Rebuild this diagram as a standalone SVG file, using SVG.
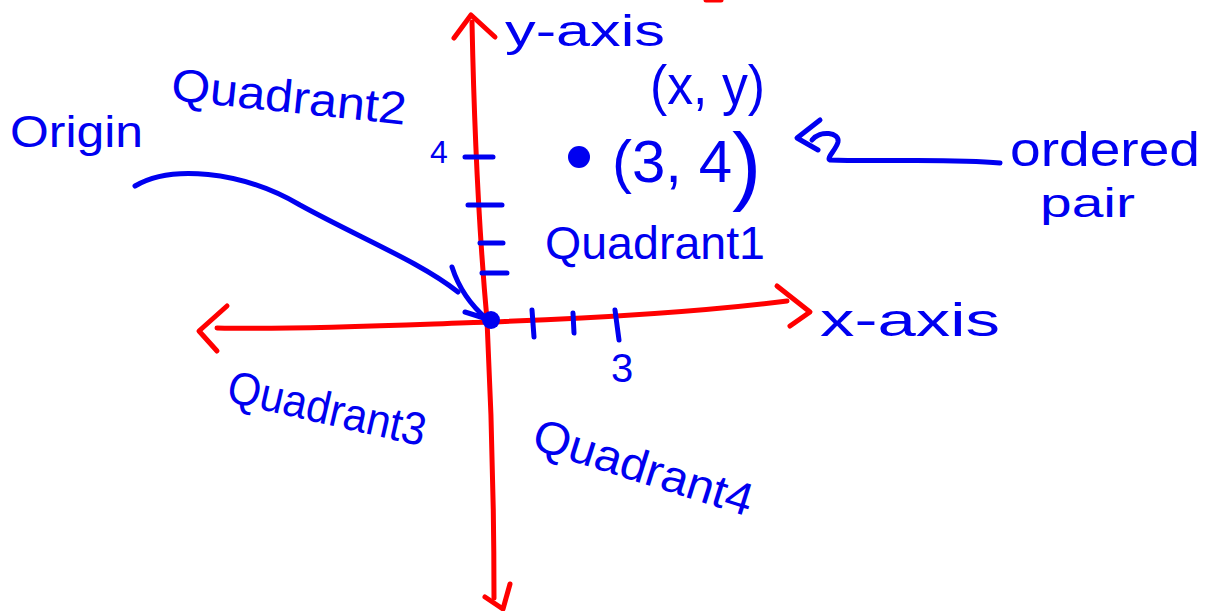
<svg xmlns="http://www.w3.org/2000/svg" width="1213" height="611" viewBox="0 0 1213 611">
<style>
.red{fill:none;stroke:#ff0000;stroke-width:5;stroke-linecap:round;stroke-linejoin:round}
.blue{fill:none;stroke:#0000f0;stroke-width:5;stroke-linecap:round;stroke-linejoin:round}
.lbl{fill:#0000f0;font-family:"Liberation Sans",Arial,sans-serif;}
</style>
<rect width="1213" height="611" fill="#ffffff"/>
<g id="axes">
  <path class="red" d="M472,22 C474,120 478,220 487,320 C492,420 494,500 494,598"/>
  <path class="red" d="M454,38 L471,15 L495,37"/>
  <path class="red" d="M485,597 L503,609 L510,584"/>
  <path class="red" d="M217,328 C300,330 400,325 490,322 C600,318 700,312 787,301"/>
  <path class="red" d="M227,306 L199,331 L217,351"/>
  <path class="red" d="M777,286 L810,312 L790,326"/>
  <path class="red" d="M706,0 L721,0"/>
</g>
<g id="ticks">
  <path class="blue" d="M465,157 L493,157 M468,205 L502,205 M480,243 L503,243 M482,273 L507,273"/>
  <path class="blue" d="M532,310 L534,337 M573,313 L574,333 M615,310 L619,340"/>
</g>
<g id="points">
  <circle cx="491" cy="320" r="9" fill="#0000f0"/>
  <circle cx="579" cy="157" r="11" fill="#0000f0"/>
</g>
<g id="connectors">
  <path class="blue" d="M135,186 C170,165 240,170 300,205 C360,238 420,262 458,292"/>
  <path class="blue" d="M452,267 Q462,298 487,319 M465,312 L487,319"/>
  <path class="blue" d="M820,120 L797,138 L818,150"/>
  <path class="blue" d="M812,140 C820,130 840,132 838,142 C836,150 826,158 830,160 C880,162 950,158 1000,163"/>
</g>
<g id="labels">
  <text id="y-axis" class="lbl" x="505" y="46" font-size="44" textLength="160" lengthAdjust="spacingAndGlyphs">y-axis</text>
  <text id="xy" class="lbl" x="650" y="104" font-size="56" textLength="115" lengthAdjust="spacingAndGlyphs">(x, y)</text>
  <text id="p34" class="lbl" x="612" y="182" font-size="60">(3, 4<tspan font-size="88" dy="12">)</tspan></text>
  <text id="q1" class="lbl" x="545" y="259" font-size="46" textLength="220" lengthAdjust="spacingAndGlyphs">Quadrant1</text>
  <text id="q2" class="lbl" x="170" y="100" font-size="46" textLength="236" lengthAdjust="spacingAndGlyphs" transform="rotate(6 170 100)">Quadrant2</text>
  <text id="origin" class="lbl" x="10" y="147" font-size="44" textLength="133" lengthAdjust="spacingAndGlyphs">Origin</text>
  <text id="four" class="lbl" x="430" y="163" font-size="32">4</text>
  <text id="three" class="lbl" x="611" y="382" font-size="40">3</text>
  <text id="x-axis" class="lbl" x="820" y="336" font-size="46" textLength="180" lengthAdjust="spacingAndGlyphs">x-axis</text>
  <text id="ordered" class="lbl" x="1010" y="166" font-size="48" textLength="190" lengthAdjust="spacingAndGlyphs">ordered</text>
  <text id="pair" class="lbl" x="1040" y="217" font-size="40" textLength="95" lengthAdjust="spacingAndGlyphs">pair</text>
  <text id="q3" class="lbl" x="225" y="401" font-size="46" textLength="202" lengthAdjust="spacingAndGlyphs" transform="rotate(13 225 401)">Quadrant3</text>
  <text id="q4" class="lbl" x="530" y="448" font-size="46" textLength="228" lengthAdjust="spacingAndGlyphs" transform="rotate(17.5 530 448)">Quadrant4</text>
</g>
</svg>
